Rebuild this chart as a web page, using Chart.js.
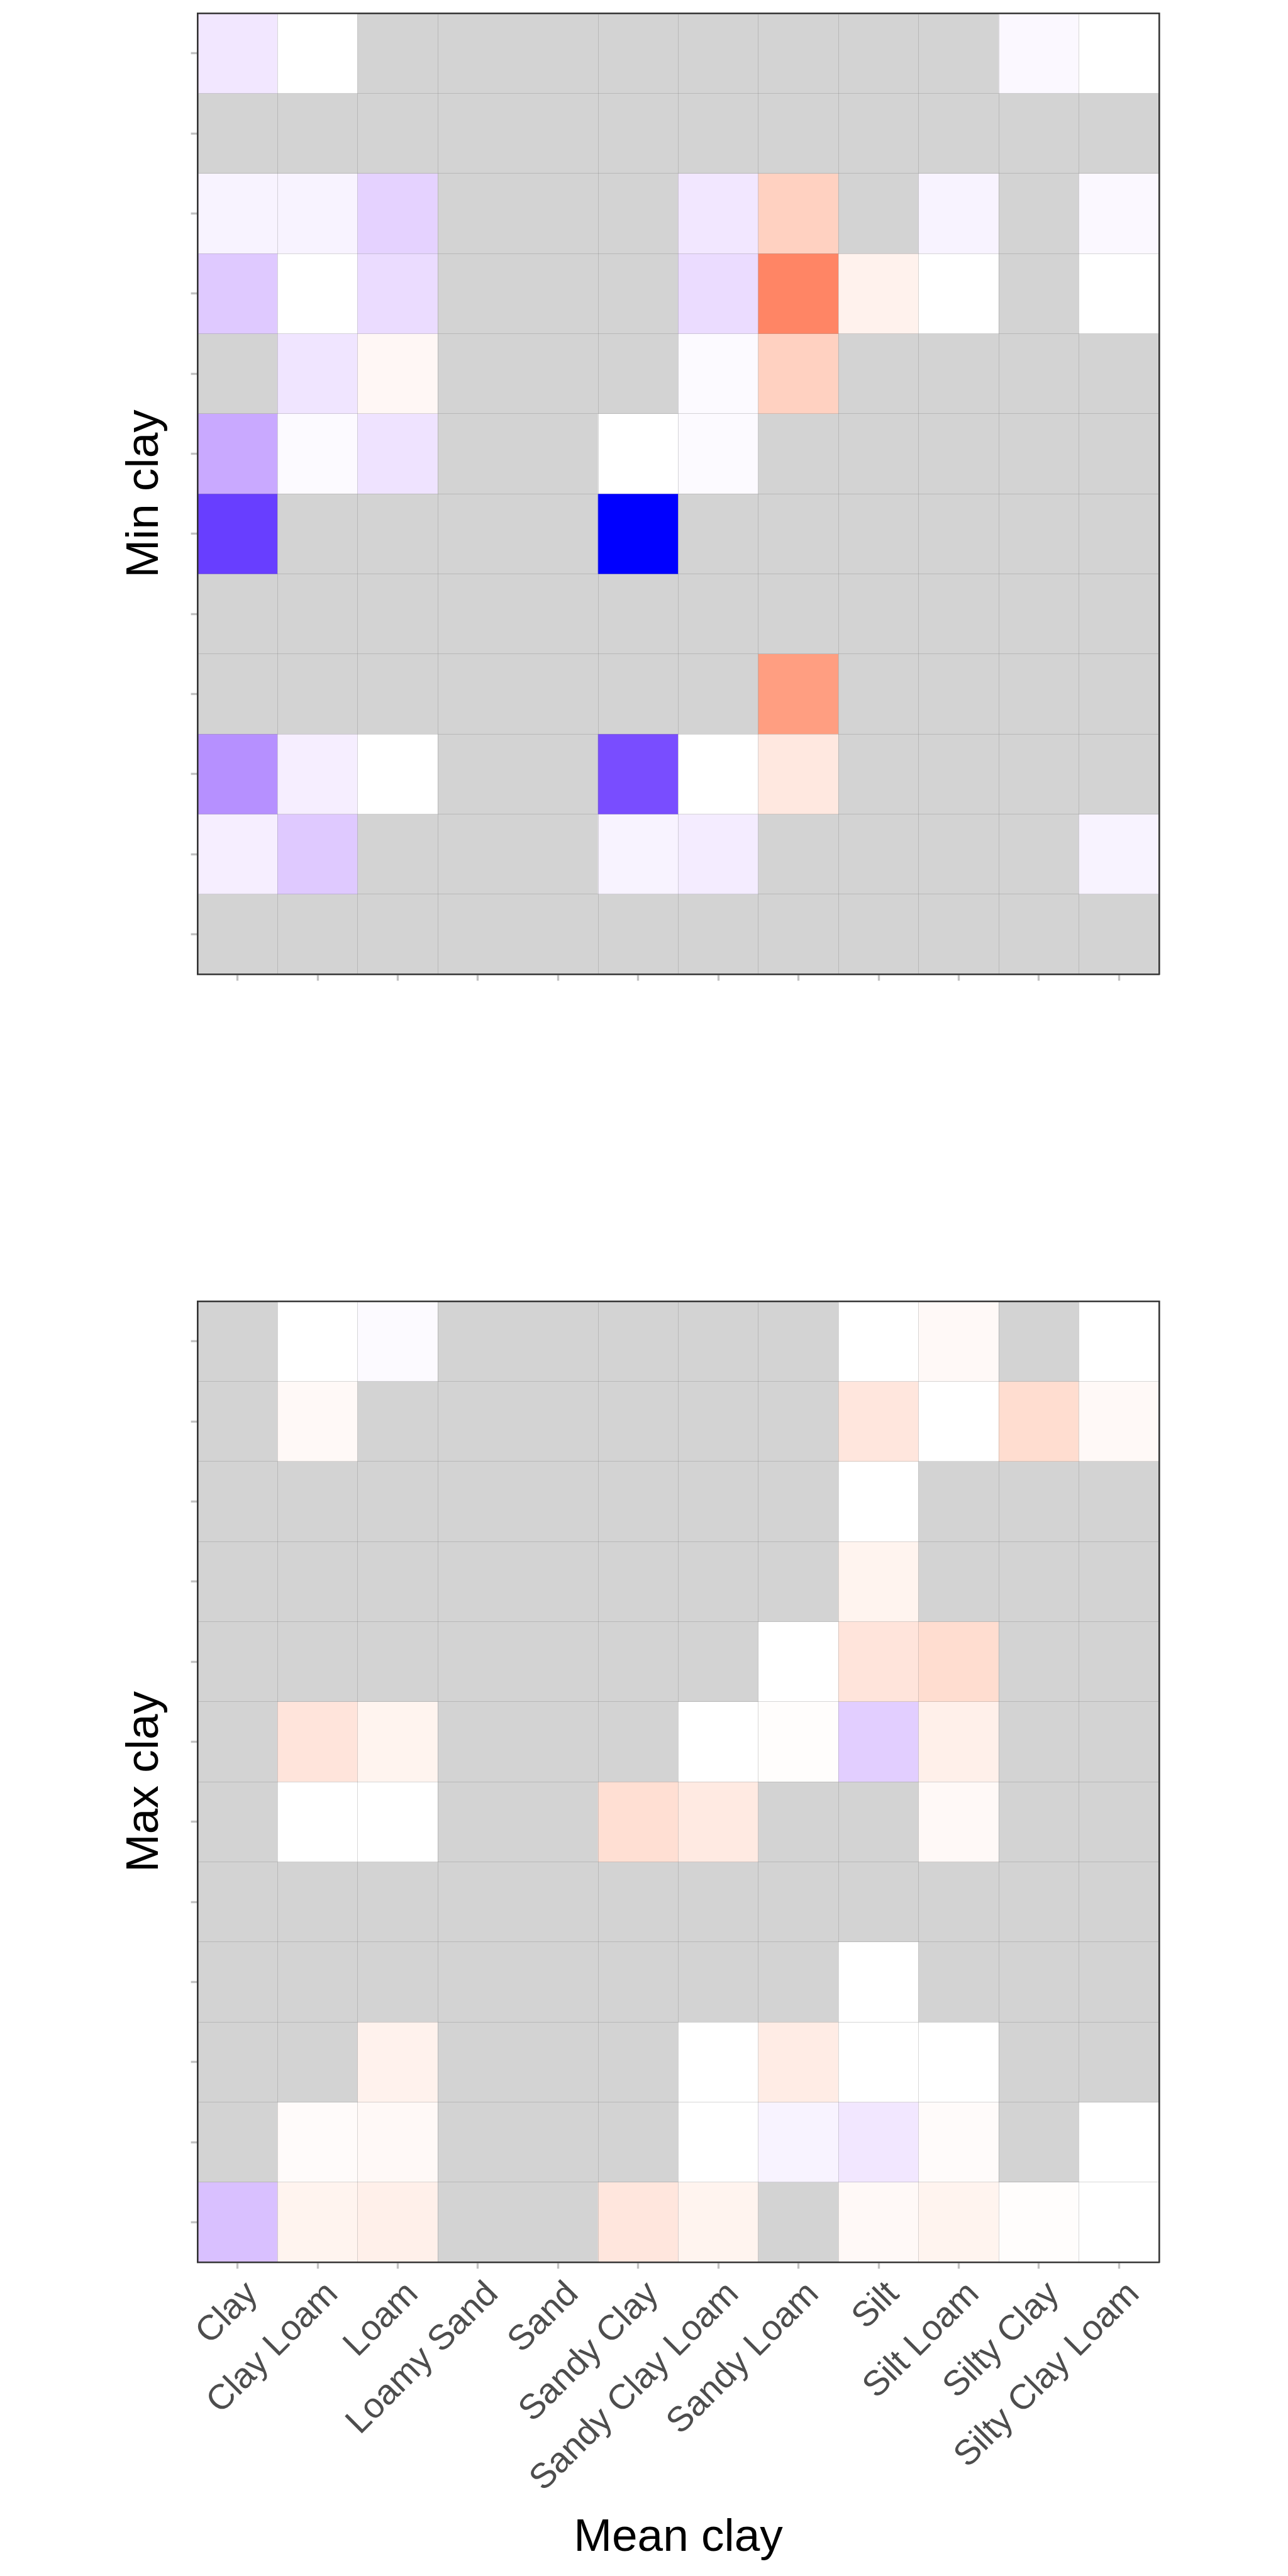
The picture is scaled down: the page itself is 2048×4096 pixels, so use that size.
<!DOCTYPE html>
<html>
<head>
<meta charset="utf-8">
<script src="https://cdn.jsdelivr.net/npm/chart.js@4.4.1/dist/chart.umd.min.js"></script>
<style>
  html, body { margin: 0; padding: 0; background: #ffffff; }
  body { width: 2048px; height: 4096px; position: relative; overflow: hidden; }
  canvas { position: absolute; left: 0; }
</style>
</head>
<body>
<canvas id="minChart" width="2048" height="1700" style="top:0px;width:2048px;height:1700px;"></canvas>
<canvas id="maxChart" width="2048" height="2296" style="top:1800px;width:2048px;height:2296px;"></canvas>
<script>
// ---------------- DATA ----------------
const xCategories = ['Clay', 'Clay Loam', 'Loam', 'Loamy Sand', 'Sand', 'Sandy Clay',
  'Sandy Clay Loam', 'Sandy Loam', 'Silt', 'Silt Loam', 'Silty Clay', 'Silty Clay Loam'];
// row categories (bottom -> top); their tick labels are blank in the original
const yCategories = ['Clay', 'Clay Loam', 'Loam', 'Loamy Sand', 'Sand', 'Sandy Clay',
  'Sandy Clay Loam', 'Sandy Loam', 'Silt', 'Silt Loam', 'Silty Clay', 'Silty Clay Loam'];
const xTickLabels = xCategories.slice();
const minClayTitle = 'Min clay';
const maxClayTitle = 'Max clay';
const meanClayTitle = 'Mean clay';

// Values on the diverging scale (-1 = blue, 0 = white, +1 = red); null = no data (grey).
// Rows listed from the TOP row of the panel down to the bottom row.
const minClayRows = [
  [-0.10, 0.00, null, null, null, null, null, null, null, null, -0.03, 0.00],
  [null, null, null, null, null, null, null, null, null, null, null, null],
  [-0.05, -0.05, -0.19, null, null, null, -0.10, 0.24, null, -0.05, null, -0.03],
  [-0.23, 0.00, -0.15, null, null, null, -0.15, 0.62, 0.07, 0.00, null, 0.00],
  [null, -0.11, 0.04, null, null, null, -0.02, 0.24, null, null, null, null],
  [-0.37, -0.02, -0.12, null, null, 0.00, -0.02, null, null, null, null, null],
  [-0.83, null, null, null, null, -1.00, null, null, null, null, null, null],
  [null, null, null, null, null, null, null, null, null, null, null, null],
  [null, null, null, null, null, null, null, 0.50, null, null, null, null],
  [-0.48, -0.07, 0.00, null, null, -0.77, 0.00, 0.12, null, null, null, null],
  [-0.07, -0.23, null, null, null, -0.05, -0.08, null, null, null, null, -0.05],
  [null, null, null, null, null, null, null, null, null, null, null, null]
];
const maxClayRows = [
  [null, 0.00, -0.02, null, null, null, null, null, 0.00, 0.03, null, 0.00],
  [null, 0.03, null, null, null, null, null, null, 0.13, 0.00, 0.18, 0.03],
  [null, null, null, null, null, null, null, null, 0.00, null, null, null],
  [null, null, null, null, null, null, null, null, 0.06, null, null, null],
  [null, null, null, null, null, null, null, 0.00, 0.14, 0.18, null, null],
  [null, 0.14, 0.06, null, null, null, 0.00, 0.01, -0.21, 0.08, null, null],
  [null, 0.00, 0.00, null, null, 0.17, 0.11, null, null, 0.03, null, null],
  [null, null, null, null, null, null, null, null, null, null, null, null],
  [null, null, null, null, null, null, null, null, 0.00, null, null, null],
  [null, null, 0.07, null, null, null, 0.00, 0.10, 0.00, 0.00, null, null],
  [null, 0.02, 0.03, null, null, null, 0.00, -0.05, -0.10, 0.02, null, 0.00],
  [-0.27, 0.06, 0.08, null, null, 0.13, 0.06, null, 0.03, 0.06, 0.01, 0.00]
];

// ---------------- COLOUR SCALE (Lab interpolation, blue-white-red) ----------------
const NA_COLOR = '#D3D3D3';
function toLin(c) { c /= 255; return c <= 0.04045 ? c / 12.92 : Math.pow((c + 0.055) / 1.055, 2.4); }
function fromLin(c) { c = c <= 0.0031308 ? 12.92 * c : 1.055 * Math.pow(c, 1 / 2.4) - 0.055; return Math.round(Math.max(0, Math.min(1, c)) * 255); }
function rgbToLab(rgb) {
  const r = toLin(rgb[0]), g = toLin(rgb[1]), b = toLin(rgb[2]);
  let X = (0.4124 * r + 0.3576 * g + 0.1805 * b) / 0.95047;
  let Y = (0.2126 * r + 0.7152 * g + 0.0722 * b);
  let Z = (0.0193 * r + 0.1192 * g + 0.9505 * b) / 1.08883;
  const f = t => t > 0.008856 ? Math.cbrt(t) : 7.787 * t + 16 / 116;
  const fx = f(X), fy = f(Y), fz = f(Z);
  return [116 * fy - 16, 500 * (fx - fy), 200 * (fy - fz)];
}
function labToRgb(lab) {
  const fy = (lab[0] + 16) / 116, fx = fy + lab[1] / 500, fz = fy - lab[2] / 200;
  const finv = t => t * t * t > 0.008856 ? t * t * t : (t - 16 / 116) / 7.787;
  const X = 0.95047 * finv(fx), Y = finv(fy), Z = 1.08883 * finv(fz);
  const r = 3.2406 * X - 1.5372 * Y - 0.4986 * Z;
  const g = -0.9689 * X + 1.8758 * Y + 0.0415 * Z;
  const b = 0.0557 * X - 0.2040 * Y + 1.0570 * Z;
  return [fromLin(r), fromLin(g), fromLin(b)];
}
const LAB_LOW = rgbToLab([0, 0, 255]);
const LAB_MID = rgbToLab([255, 255, 255]);
const LAB_HIGH = rgbToLab([255, 0, 0]);
function fillColor(v) {
  if (v === null || v === undefined) return NA_COLOR;
  const t = Math.min(1, Math.abs(v));
  const end = v < 0 ? LAB_LOW : LAB_HIGH;
  const lab = [0, 1, 2].map(k => LAB_MID[k] + (end[k] - LAB_MID[k]) * t);
  const rgb = labToRgb(lab);
  return 'rgb(' + rgb[0] + ',' + rgb[1] + ',' + rgb[2] + ')';
}

// ---------------- STYLE ----------------
const FONT = "'Liberation Sans', Arial, Helvetica, sans-serif";
const FRAME = '#333333';
const FRAME_W = 2.6;
const CELL_LINE = 'rgba(110,110,110,0.27)';
const TICK_COLOR = '#C2C2C2';

// Build one heatmap chart
function makeHeatmap(canvasId, rows, yTitle, opts) {
  const nRows = rows.length;
  const datasets = [];
  for (let i = 0; i < nRows; i++) {
    const r = nRows - 1 - i;            // row index from bottom
    const vals = rows[i];
    datasets.push({
      label: yCategories[r],
      data: xCategories.map((c, j) => [r, r + 1]),
      backgroundColor: vals.map(v => fillColor(v)),
      borderWidth: 0,
      grouped: false,
      barPercentage: 1.0,
      categoryPercentage: 1.0,
      xAxisID: 'x',
      yAxisID: 'y'
    });
  }
  const lineCol = ctx => (ctx.index === 4 ? 'rgba(0,0,0,0)' : CELL_LINE);
  return new Chart(document.getElementById(canvasId), {
    type: 'bar',
    data: { labels: xCategories, datasets },
    options: {
      responsive: false,
      animation: false,
      devicePixelRatio: 1,
      layout: { padding: 0 },
      plugins: { legend: { display: false }, tooltip: { enabled: false }, title: { display: false } },
      scales: {
        x: {
          type: 'category',
          position: 'bottom',
          offset: true,
          grid: { display: true, offset: false, drawOnChartArea: false, drawTicks: true, z: 1,
                  tickLength: 10.4, tickWidth: 3.4, tickColor: TICK_COLOR, color: TICK_COLOR },
          border: { display: true, color: FRAME, width: FRAME_W, z: 2 },
          ticks: opts.showX ? {
            display: true, autoSkip: false, minRotation: 45, maxRotation: 45,
            showLabelBackdrop: true, backdropColor: 'rgba(0,0,0,0)', backdropPadding: 0,
            color: '#4D4D4D', padding: opts.tickPad, font: { family: FONT, size: opts.tickSize }
          } : { display: false },
          title: opts.showX ? {
            display: true, text: meanClayTitle, color: '#000000',
            font: { family: FONT, size: 73 }, padding: { top: 0, bottom: opts.xTitlePad }
          } : { display: false },
          afterFit: s => { s.height = opts.bottomH; }
        },
        xg: {
          type: 'category',
          labels: xCategories,
          position: 'top',
          offset: true,
          grid: { display: true, offset: true, drawOnChartArea: true, drawTicks: false, z: 1,
                  color: lineCol, lineWidth: 1 },
          border: { display: true, color: FRAME, width: FRAME_W, z: 2 },
          ticks: { display: false },
          afterFit: s => { s.height = opts.topH; }
        },
        y: {
          type: 'linear',
          position: 'left',
          min: 0, max: nRows,
          weight: 0,
          grid: { display: true, drawOnChartArea: true, drawTicks: false, z: 1,
                  color: CELL_LINE, lineWidth: 1 },
          border: { display: true, color: FRAME, width: FRAME_W, z: 2 },
          ticks: { display: false, stepSize: 1 },
          afterFit: s => { s.width = 0; }
        },
        yt: {
          type: 'linear',
          position: 'left',
          min: 0, max: nRows,
          weight: 1,
          afterBuildTicks: s => { s.ticks = yCategories.map((c, k) => ({ value: k + 0.5 })); },
          grid: { display: true, drawOnChartArea: false, drawTicks: true, tickLength: 10.4, z: 1,
                  tickWidth: 3.4, tickColor: TICK_COLOR, color: TICK_COLOR },
          border: { display: false },
          ticks: { display: false },
          title: { display: true, text: yTitle, color: '#000000',
                   font: { family: FONT, size: 73 }, padding: { top: 187, bottom: 0 } },
          afterFit: s => { s.width = 314; }
        },
        yr: {
          type: 'linear',
          position: 'right',
          min: 0, max: nRows,
          grid: { display: false },
          border: { display: true, color: FRAME, width: FRAME_W, z: 2 },
          ticks: { display: false },
          afterFit: s => { s.width = 2048 - 1843; }
        }
      }
    }
  });
}

makeHeatmap('minChart', minClayRows, minClayTitle,
  { showX: false, topH: 21, bottomH: 1700 - 1549 });
makeHeatmap('maxChart', maxClayRows, maxClayTitle,
  { showX: true, topH: 269, bottomH: 2296 - 1797, tickSize: 56, tickPad: 8, xTitlePad: 16 });
</script>
</body>
</html>
